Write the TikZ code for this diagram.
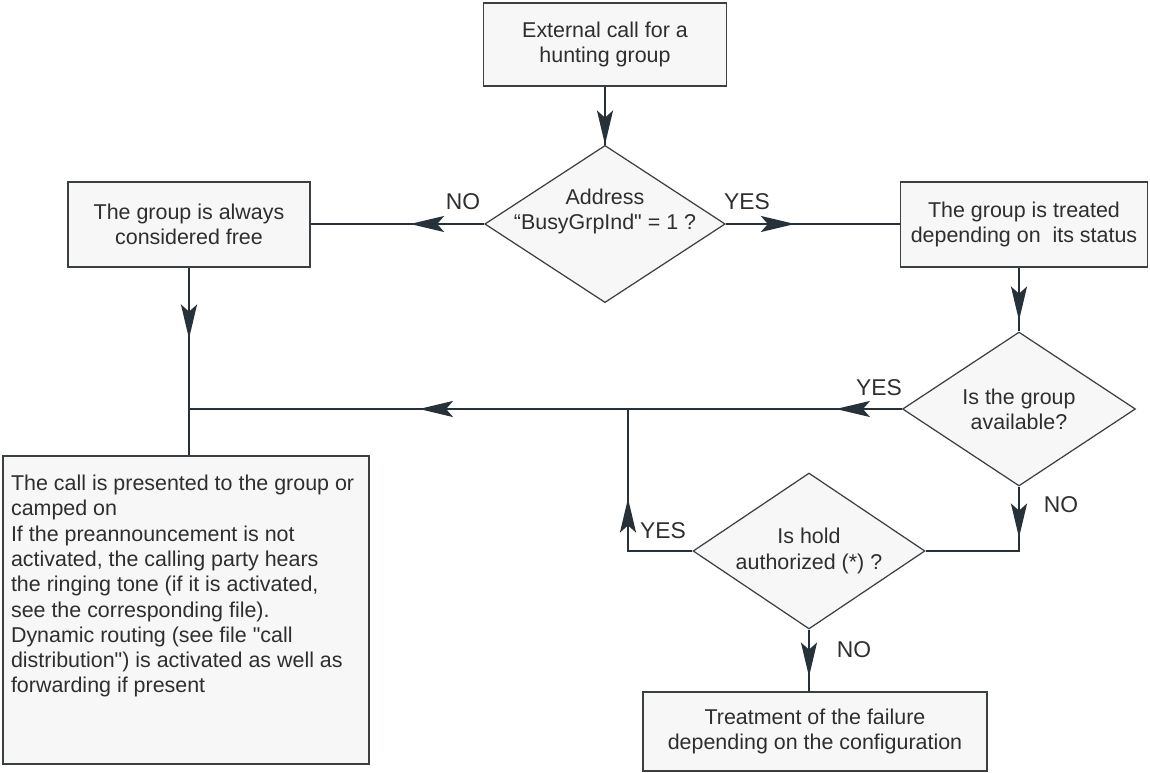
\documentclass[tikz,border=0pt]{standalone}
\usepackage{fontspec}
\setmainfont{Liberation Sans}[Ligatures=TeXOff]
\usepackage{xcolor}
\usepackage{tikz}
\usetikzlibrary{arrows.meta,shapes.geometric,decorations.markings}

\definecolor{inkline}{HTML}{27313A}
\definecolor{boxline}{HTML}{3A3F42}
\definecolor{boxfill}{HTML}{F7F7F7}
\definecolor{ink}{HTML}{2E2E2E}

\begin{document}
\begin{tikzpicture}[
  x=0.02cm,y=-0.02cm,
  >={Stealth[length=6.8mm,width=3.2mm,inset=1.4mm]},
  box/.style={draw=boxline,fill=boxfill,line width=0.7pt,align=center,inner sep=0pt,text=ink,font=\fontsize{12.2}{14.4}\selectfont},
  decision/.style={box,diamond,aspect=1.53,inner xsep=-0.5cm,inner ysep=0pt},
  flow/.style={draw=inkline,line width=1.3pt},
  midhead/.style={postaction={decorate,decoration={markings,mark=at position #1 with {\arrow{>}}}}},
  lbl/.style={inner sep=0pt,text=ink,font=\fontsize{13}{15}\selectfont}
]
\useasboundingbox (0,0) rectangle (1150,773);
\node[box,minimum width=4.86cm,minimum height=1.66cm] (call) at (605,44.5) {External call for a\\hunting group};
\node[decision,minimum width=4.68cm,minimum height=3.06cm,text depth=0.6cm] (busy) at (605,224) {Address\\“BusyGrpInd" = 1 ?};
\node[box,minimum width=4.84cm,minimum height=1.7cm] (free) at (189,224.5) {The group is always\\considered free};
\node[box,minimum width=4.94cm,minimum height=1.7cm] (status) at (1024,224.5) {The group is treated\\depending on\ \ its status};
\node[decision,minimum width=4.66cm,minimum height=3.08cm] (avail) at (1019,409) {Is the group\\available?};
\node[decision,minimum width=4.64cm,minimum height=3.12cm] (hold) at (809,551) {Is hold\\authorized (*) ?};
\node[box,minimum width=6.88cm,minimum height=1.58cm] (fail) at (815,731.5) {Treatment of the failure\\depending on the configuration};
\node[box,inner xsep=0.16cm,inner ysep=0.38cm] (present) at (186,610) {\parbox[t][5.4cm][t]{7cm}{\raggedright
  The call is presented to the group or\\
  camped on\\
  If the preannouncement is not\\
  activated, the calling party hears\\
  the ringing tone (if it is activated,\\
  see the corresponding file).\\
  Dynamic routing (see file "call\\
  distribution") is activated as well as\\
  forwarding if present}};
\coordinate (join) at (628,409);

% connectors
\draw[flow,midhead=1.16cm] (call) -- (busy);
\draw[flow,midhead=1.48cm] (busy.west) -- (busy.west -| free.east);
\draw[flow,midhead=1.38cm] (busy.east) -- (busy.east -| status.west);
\draw[flow,midhead=1.42cm] (free.south) -- (free.south |- present.north);
\draw[flow,midhead=1.06cm] (status.south -| avail.north) -- (avail.north);
\draw[flow,midhead=1.32cm,midhead=9.66cm] (avail.west) -- (avail.west -| free.south);
\draw[flow,midhead=1.02cm] (avail.south) |- (hold.east);
\draw[flow,midhead=2.34cm] (hold.west) -| (join);
\draw[flow,midhead=0.94cm] (hold.south) -- (hold.south |- fail.north);

% labels
\node[lbl] (busyno) at (463,202) {NO};
\node[lbl] (busyyes) at (747,202) {YES};
\node[lbl] (availyes) at (879,388) {YES};
\node[lbl] (availno) at (1061,505) {NO};
\node[lbl] (holdyes) at (663,531) {YES};
\node[lbl] (holdno) at (854,650) {NO};
\end{tikzpicture}
\end{document}
